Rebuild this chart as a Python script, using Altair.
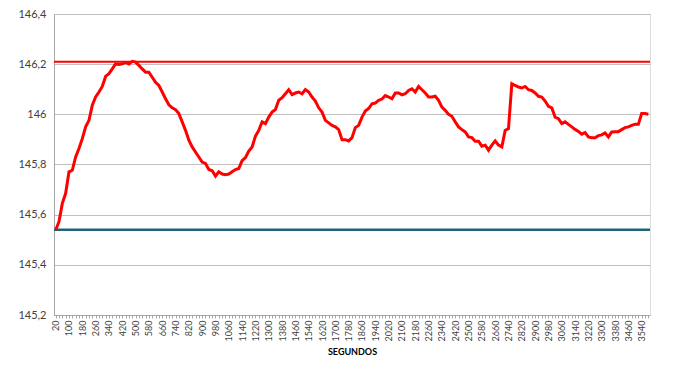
import altair as alt
import pandas as pd

seconds = list(range(20, 3600, 20))  # 20 .. 3580

values = [
    145.539, 145.572, 145.645, 145.685, 145.771, 145.777, 145.830, 145.864, 145.903, 145.950,
    145.976, 146.036, 146.069, 146.089, 146.111, 146.151, 146.162, 146.181, 146.201, 146.199,
    146.201, 146.207, 146.201, 146.211, 146.208, 146.195, 146.181, 146.168, 146.168, 146.148,
    146.128, 146.115, 146.089, 146.062, 146.038, 146.026, 146.019, 146.003, 145.970, 145.936,
    145.897, 145.870, 145.850, 145.830, 145.810, 145.804, 145.780, 145.775, 145.754, 145.771,
    145.762, 145.759, 145.762, 145.771, 145.780, 145.784, 145.815, 145.828, 145.854, 145.870,
    145.913, 145.936, 145.970, 145.963, 145.989, 146.009, 146.019, 146.056, 146.066, 146.082,
    146.098, 146.079, 146.085, 146.089, 146.082, 146.099, 146.089, 146.069, 146.053, 146.026,
    146.009, 145.976, 145.966, 145.956, 145.950, 145.939, 145.899, 145.899, 145.894, 145.907,
    145.947, 145.956, 145.989, 146.013, 146.023, 146.042, 146.045, 146.056, 146.061, 146.075,
    146.069, 146.062, 146.085, 146.085, 146.078, 146.082, 146.095, 146.102, 146.089, 146.111,
    146.098, 146.085, 146.069, 146.069, 146.072, 146.056, 146.029, 146.016, 146.000, 145.992,
    145.970, 145.950, 145.939, 145.930, 145.910, 145.907, 145.893, 145.893, 145.873, 145.877,
    145.857, 145.877, 145.894, 145.877, 145.870, 145.936, 145.943, 146.122, 146.115, 146.109,
    146.105, 146.111, 146.098, 146.095, 146.085, 146.072, 146.069, 146.053, 146.032, 146.026,
    145.989, 145.983, 145.963, 145.970, 145.960, 145.950, 145.940, 145.932, 145.921, 145.927,
    145.910, 145.907, 145.907, 145.915, 145.918, 145.926, 145.910, 145.930, 145.931, 145.931,
    145.939, 145.947, 145.950, 145.956, 145.960, 145.960, 146.003, 146.003, 146.000,
]

upper_limit = [146.21]
lower_limit = [145.54]
y_ticks = [145.2, 145.4, 145.6, 145.8, 146.0, 146.2, 146.4]

df = pd.DataFrame({"seg": seconds, "val": values})
up_df = pd.DataFrame({"v": upper_limit})
lo_df = pd.DataFrame({"v": lower_limit})

FONT = "Lato"

x_enc = alt.X(
    "seg:O",
    sort=None,
    title="SEGUNDOS",
    scale=alt.Scale(paddingOuter=0.5),
    axis=alt.Axis(
        labelAngle=-90,
        labelExpr="(datum.value - 20) % 80 == 0 ? datum.label : ''",
        labelFontSize=9,
        labelColor="#404040",
        labelFont=FONT,
        labelPadding=2,
        labelOverlap=False,
        tickSize=3,
        tickColor="#A6A6A6",
        domainColor="#A6A6A6",
        titleFont=FONT,
        titleFontSize=9,
        titleFontWeight="bold",
        titleColor="#000000",
        titlePadding=7,
        grid=False,
    ),
)

y_scale = alt.Scale(domain=[145.2, 146.4], nice=False, zero=False)

line = alt.Chart(df).mark_line(color="#FF0000", strokeWidth=3).encode(
    x=x_enc,
    y=alt.Y(
        "val:Q",
        scale=y_scale,
        title=None,
        axis=alt.Axis(
            values=y_ticks,
            labelExpr="replace(format(datum.value, '.1~f'), '.', ',')",
            labelFontSize=11,
            labelColor="#404040",
            labelFont=FONT,
            labelPadding=8,
            ticks=False,
            domainColor="#A6A6A6",
            gridColor="#BFBFBF",
            gridWidth=1,
        ),
    ),
)

upper = alt.Chart(up_df).mark_rule(color="#FF0000", strokeWidth=2).encode(
    y=alt.Y("v:Q", scale=y_scale)
)
lower = alt.Chart(lo_df).mark_rule(color="#1F6478", strokeWidth=2.5).encode(
    y=alt.Y("v:Q", scale=y_scale)
)

chart = (
    alt.layer(upper, lower, line)
    .properties(
        width=596,
        height=301,
        autosize=alt.AutoSizeParams(type="none"),
        padding={"left": 46, "top": 6, "right": 20, "bottom": 48},
    )
    .configure_view(stroke=None)
    .configure(background="white")
)

chart.save("out.html", embed_options={"renderer": "svg", "actions": False})
